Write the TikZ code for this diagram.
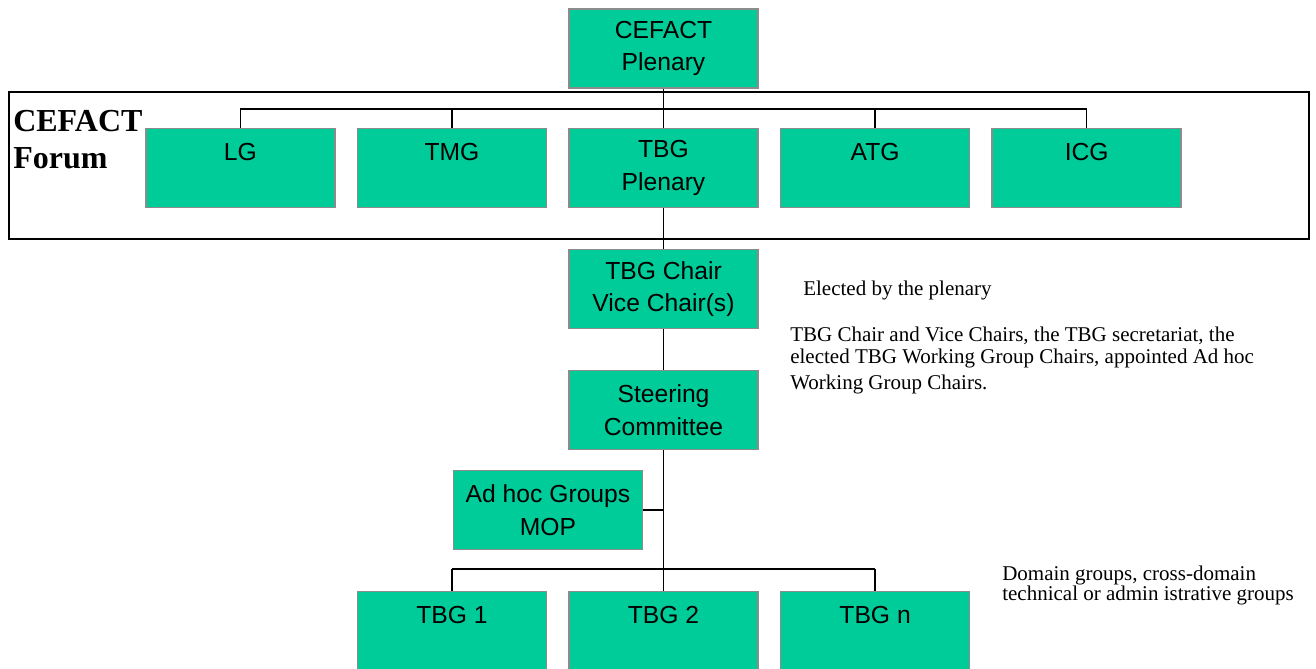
\documentclass[tikz,border=0pt]{standalone}
\usepackage{fontspec}
\setmainfont{Liberation Serif}
\newfontfamily\boxfont{Liberation Sans}
\usetikzlibrary{positioning}
\definecolor{orggreen}{RGB}{0,204,153}
\definecolor{orgedge}{RGB}{140,140,140}

\begin{document}
\begin{tikzpicture}[x=0.75pt, y=-0.75pt,
  unit/.style={draw=orgedge, line width=1.2pt, fill=orggreen, align=center, inner sep=0pt,
    minimum width=141.75pt, minimum height=59.25pt, font=\boxfont\fontsize{18.5}{24.5}\selectfont},
  link/.style={line width=1.1pt},
  note/.style={anchor=base west, align=left, inner sep=0pt, font=\fontsize{15.75}{16.5}\selectfont}
]
\useasboundingbox (0,0) rectangle (1316,668);
% forum frame
\draw[line width=1.3pt] (9,92) rectangle (1309,239);
\node[anchor=base west, align=left, inner sep=0pt, font=\bfseries\fontsize{24}{27.75}\selectfont]
  (forumlbl) at (13,168) {CEFACT\\Forum};

\node[unit] (cefact) at (663.5,48.5) {CEFACT\\Plenary};
\node[unit] (tbgp) at (663.5,168) {TBG\\Plenary};
\node[unit, left=15.75pt of tbgp] (tmg) {TMG\\~};
\node[unit, left=15.75pt of tmg] (lg) {LG\\~};
\node[unit, right=15.75pt of tbgp] (atg) {ATG\\~};
\node[unit, right=15.75pt of atg] (icg) {ICG\\~};

\node[unit] (chair) at (663.5,289) {TBG Chair\\Vice Chair(s)};
\node[unit] (steer) at (663.5,410) {Steering\\Committee};
\node[unit] (adhoc) at (548,510) {Ad hoc Groups\\MOP};

\node[unit] (tbgtwo) at (663.5,631) {TBG 2\\~};
\node[unit, left=15.75pt of tbgtwo] (tbgone) {TBG 1\\~};
\node[unit, right=15.75pt of tbgtwo] (tbgn) {TBG n\\~};

\coordinate (topbus) at (663.5,109);
\coordinate (lowbus) at (663.5,569);

% links
\draw[link] (cefact) -- (tbgp);
\draw[link] (lg.north |- topbus) -- (icg.north |- topbus);
\foreach \g in {lg,tmg,atg,icg}
  \draw[link] (\g.north) -- (\g.north |- topbus);
\draw[link] (tbgp) -- (chair);
\draw[link] (chair) -- (steer);
\draw[link] (steer) -- (tbgtwo);
\draw[link] (adhoc.east) -- (adhoc.east -| steer.south);
\draw[link] (tbgone.north |- lowbus) -- (tbgn.north |- lowbus);
\foreach \g in {tbgone,tbgn}
  \draw[link] (\g.north) -- (\g.north |- lowbus);

% notes
\node[note] (elected) at (803,295) {Elected by the plenary};
\node[note] (members) at (790,389) {TBG Chair and Vice Chairs, the TBG secretariat, the\\
  elected TBG Working Group Chairs, appointed Ad hoc\\[3pt]Working Group Chairs.};
\node[note, font=\fontsize{15.75}{15}\selectfont] (domains) at (1002,600)
  {Domain groups, cross-domain\\technical or admin istrative groups};
\end{tikzpicture}
\end{document}
